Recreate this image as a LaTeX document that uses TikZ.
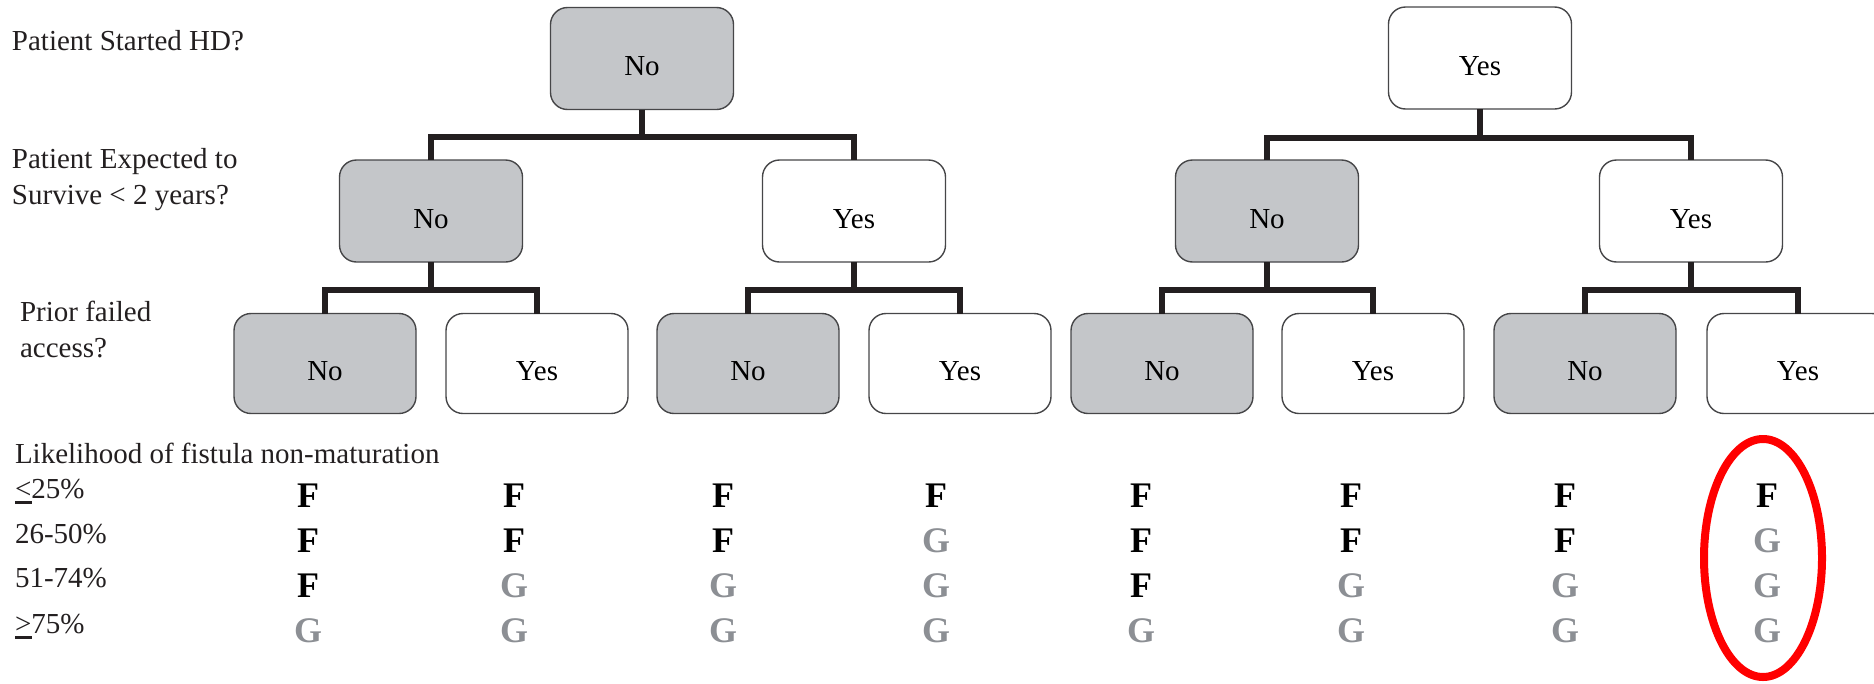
\documentclass[tikz,border=0pt]{standalone}
\usepackage{fontspec}
\setmainfont{Liberation Serif}
\definecolor{boxgray}{RGB}{196,198,201}
\definecolor{boxline}{RGB}{70,70,72}
\definecolor{linedark}{RGB}{35,31,32}
\definecolor{textdark}{RGB}{35,31,32}
\definecolor{ggray}{RGB}{140,143,148}
% underlined relation sign (printed form of <= and >=)
\newcommand\ulsign[1]{\makebox[0pt][l]{\rule[-6pt]{17pt}{3pt}}#1}
\tikzset{
  every node/.style={inner sep=0pt, outer sep=0pt},
  choice/.style={draw=boxline, line width=1.4pt, rounded corners=17pt,
    minimum width=183pt, minimum height=102pt,
    font=\fontsize{29}{34}\selectfont, text=black,
    text height=34pt, text depth=0pt},
  nobox/.style={choice, fill=boxgray},
  yesbox/.style={choice, fill=white},
  leaf/.style={minimum width=182pt, minimum height=100pt},
  conn/.style={draw=linedark, line width=6pt},
  lab/.style={anchor=base west, font=\fontsize{29}{36}\selectfont,
    text=textdark, align=left},
  markF/.style={anchor=base, font=\fontsize{36}{40}\selectfont\bfseries, text=black},
  markG/.style={markF, text=ggray},
}
\begin{document}
\begin{tikzpicture}[x=1pt, y=-1pt]
\useasboundingbox (0,0) rectangle (1874,683);
\clip (0,0) rectangle (1874,683);

% row labels
\node[lab] (qhd)   at (12,50)  {Patient Started HD?};
\node[lab] (qsurv) at (12,204) {Patient Expected to\\Survive < 2 years?};
\node[lab] (qacc)  at (20,357) {Prior failed\\access?};
\node[lab] (qlik)  at (15,463) {Likelihood of fistula non-maturation};
\node[lab] (p1) at (15,498) {\ulsign{<}25\%};
\node[lab] (p2) at (15,543) {26-50\%};
\node[lab] (p3) at (15,587) {51-74\%};
\node[lab] (p4) at (15,633) {\ulsign{>}75\%};

% level 1: started HD
\node[nobox]  (t0) at (642,58.5) {No};
\node[yesbox] (t1) at (1480,58)  {Yes};

% level 2: expected survival
\node[nobox]  (a) at (431,211)  {No};
\node[yesbox] (b) at (854,211)  {Yes};
\node[nobox]  (c) at (1267,211) {No};
\node[yesbox] (d) at (1691,211) {Yes};

% level 3: prior failed access
\node[nobox, leaf]  (a1) at (325,363.5)  {No};
\node[yesbox, leaf] (a2) at (537,363.5)  {Yes};
\node[nobox, leaf]  (b1) at (748,363.5)  {No};
\node[yesbox, leaf] (b2) at (960,363.5)  {Yes};
\node[nobox, leaf]  (c1) at (1162,363.5) {No};
\node[yesbox, leaf] (c2) at (1373,363.5) {Yes};
\node[nobox, leaf]  (d1) at (1585,363.5) {No};
\node[yesbox, leaf] (d2) at (1798,363.5) {Yes};

% tree connectors
\draw[conn] (t0.south) -- ++(0,27) coordinate (j0);
\draw[conn] (a.north) |- (j0) -| (b.north);
\draw[conn] (t1.south) -- ++(0,29) coordinate (j1);
\draw[conn] (c.north) |- (j1) -| (d.north);
\foreach \p/\l/\r in {a/a1/a2, b/b1/b2, c/c1/c2, d/d1/d2} {
  \draw[conn] (\p.south) -- ++(0,28) coordinate (j\p);
  \draw[conn] (\l.north) |- (j\p) -| (\r.north);
}

% recommendation grid: F and G
\foreach \y/\row [count=\r] in {507/{F,F,F,F,F,F,F,F}, 552/{F,F,F,G,F,F,F,G},
                               597/{F,G,G,G,F,G,G,G}, 642/{G,G,G,G,G,G,G,G}} {
  \foreach \m [count=\c] in \row {
    \pgfmathsetmacro\cx{{308,514,723,936,1141,1351,1565,1767}[\c-1]}
    \node[mark\m] (m\r-\c) at (\cx,\y) {\m};
  }
}

% highlighted column
\draw[red, line width=8pt] (1763,558) ellipse [x radius=59, y radius=119];
\end{tikzpicture}
\end{document}
